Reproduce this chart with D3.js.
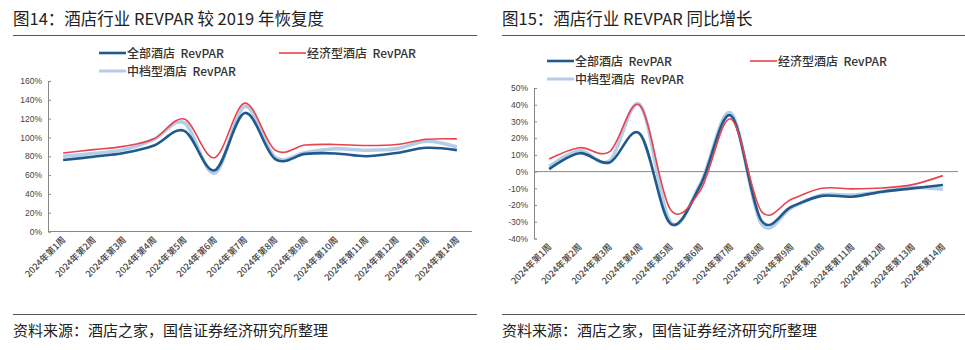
<!DOCTYPE html>
<html><head><meta charset="utf-8">
<script src="https://cdn.jsdelivr.net/npm/d3@7"></script>
<style>body{margin:0;background:#fff}svg{display:block}</style>
</head><body>
<svg id="c" width="965" height="350"></svg>
<script>
const weeks = ["2024年第1周","2024年第2周","2024年第3周","2024年第4周","2024年第5周","2024年第6周","2024年第7周","2024年第8周","2024年第9周","2024年第10周","2024年第11周","2024年第12周","2024年第13周","2024年第14周"];
const seriesNames = ["全部酒店  RevPAR","经济型酒店  RevPAR","中档型酒店  RevPAR"];
// Chart 14: recovery vs 2019 (%)
const recAll = [76, 79.5, 83.5, 91.5, 107, 65, 126, 77, 82.5, 83, 80, 83.5, 89, 86.5];
const recEco = [83.5, 87, 90.5, 98.5, 119.5, 78.5, 136.5, 86.5, 92, 92.5, 91.5, 92.5, 98, 98.5];
const recMid = [80, 83, 87, 98, 115.5, 62, 133, 79, 84, 88, 86.5, 88, 96, 90];
const recTicks = [0,20,40,60,80,100,120,140,160];
// Chart 15: YoY growth (%)
const yoyAll = [1.5, 11, 5.5, 22.5, -31, -8, 33.5, -29, -21, -14.5, -15, -12, -10, -8];
const yoyEco = [7.5, 14.3, 12, 39.5, -22.5, -11, 31.5, -23.5, -16.5, -10, -10.3, -9.8, -7.8, -2.4];
const yoyMid = [3, 12.5, 6.5, 40, -30, -7, 35, -31, -21.5, -14, -14, -12, -9.5, -10.5];
const yoyTicks = [-40,-30,-20,-10,0,10,20,30,40,50];

const colors = {all:"#1f5a8a", eco:"#e8434d", mid:"#b5cde9"};
const svg = d3.select("#c");
const font = "'Noto Sans CJK SC','Noto Sans',sans-serif";

function panel(o){
  const g = svg.append("g");
  g.append("text").attr("x",o.left).attr("y",25).attr("font-family",font).attr("font-size",16.5)
    .attr("fill","#222").text(o.title);
  g.append("line").attr("x1",o.left).attr("x2",o.right).attr("y1",35.5).attr("y2",35.5).attr("stroke","#555").attr("stroke-width",1);
  g.append("line").attr("x1",o.left).attr("x2",o.right).attr("y1",314.5).attr("y2",314.5).attr("stroke","#555").attr("stroke-width",1);
  g.append("text").attr("x",o.left).attr("y",336).attr("font-family",font).attr("font-size",15)
    .attr("fill","#222").text("资料来源：酒店之家，国信证券经济研究所整理");

  const x = d3.scaleBand().domain(weeks).range([o.ax0, o.ax1]);
  const y = d3.scaleLinear().domain(o.domain).range(o.yr);
  const ya = g.append("g").attr("transform",`translate(${o.ax0},0)`)
    .call(d3.axisLeft(y).tickValues(o.ticks).tickSize(-3).tickPadding(6).tickFormat(d=>d+"%"));
  ya.select(".domain").attr("stroke","#888");
  ya.selectAll(".tick line").attr("stroke","#888");
  ya.selectAll("text").attr("font-family","'Liberation Sans',Arial,sans-serif").attr("font-size",8.5).attr("fill","#444");
  g.append("line").attr("x1",o.ax0).attr("x2",o.ax1).attr("y1",y(o.zero)).attr("y2",y(o.zero))
    .attr("stroke","#888").attr("stroke-width",1);
  const yb = o.yr[0];
  g.append("g").selectAll("text").data(weeks).join("text")
    .attr("transform",d=>`translate(${x(d)+x.bandwidth()/2+3},${yb+9}) rotate(-45)`)
    .attr("text-anchor","end").attr("font-family",font).attr("font-size",9).attr("font-weight",500).attr("fill","#444")
    .text(d=>d);
  const line = d3.line().x((d,i)=>x(weeks[i])+x.bandwidth()/2).y(d=>y(d)).curve(d3.curveCardinal.tension(0));
  const ser = [
    {v:o.mid, c:colors.mid, w:3.5},
    {v:o.all, c:colors.all, w:2.6},
    {v:o.eco, c:colors.eco, w:1.6}
  ];
  ser.forEach(s=>g.append("path").attr("d",line(s.v)).attr("fill","none").attr("stroke",s.c).attr("stroke-width",s.w));
  const leg = [
    {n:seriesNames[0], c:colors.all, w:2.6, x:o.lx1, y:o.ly},
    {n:seriesNames[1], c:colors.eco, w:1.6, x:o.lx2, y:o.ly},
    {n:seriesNames[2], c:colors.mid, w:3, x:o.lx1, y:o.ly+18}
  ];
  leg.forEach(l=>{
    g.append("line").attr("x1",l.x).attr("x2",l.x+27).attr("y1",l.y).attr("y2",l.y).attr("stroke",l.c).attr("stroke-width",l.w);
    g.append("text").attr("x",l.x+28).attr("y",l.y+4.5).attr("font-family",font).attr("font-size",12).attr("font-weight",500)
      .style("white-space","pre").attr("fill","#333").text(l.n);
  });
}

panel({left:13,right:477,title:"图14：酒店行业 REVPAR 较 2019 年恢复度",
  ax0:48, ax1:472, domain:[0,160], yr:[231.5,81], ticks:recTicks, zero:0,
  all:recAll, eco:recEco, mid:recMid, lx1:99, lx2:279, ly:53});
panel({left:502,right:965,title:"图15：酒店行业 REVPAR 同比增长",
  ax0:534, ax1:958, domain:[-40,50], yr:[238.5,88], ticks:yoyTicks, zero:0,
  all:yoyAll, eco:yoyEco, mid:yoyMid, lx1:547, lx2:750, ly:61});
</script>
</body></html>
